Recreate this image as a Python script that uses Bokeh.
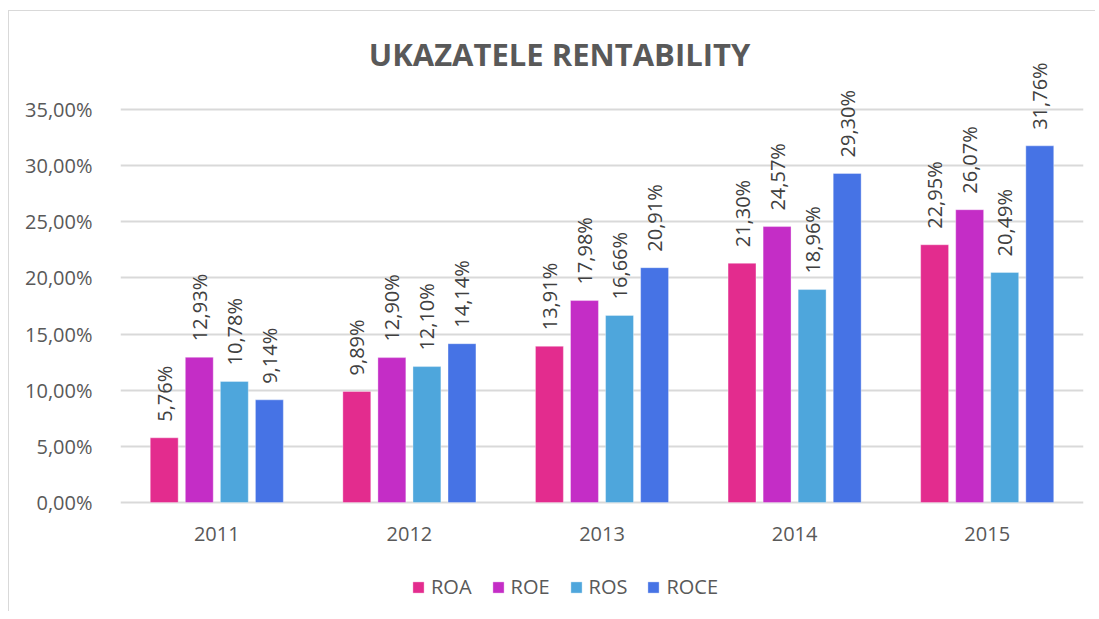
import math
from bokeh.plotting import figure
from bokeh.models import ColumnDataSource, FactorRange, Legend, LegendItem, Label, CustomJSTickFormatter
from bokeh.transform import dodge
from bokeh.core.properties import value
from bokeh.embed import file_html
from bokeh.resources import INLINE

years = ["2011", "2012", "2013", "2014", "2015"]
series = ["ROA", "ROE", "ROS", "ROCE"]
roa = [5.76, 9.89, 13.91, 21.30, 22.95]
roe = [12.93, 12.90, 17.98, 24.57, 26.07]
ros = [10.78, 12.10, 16.66, 18.96, 20.49]
roce = [9.14, 14.14, 20.91, 29.30, 31.76]
colors = ["#E32C8E", "#C42DC6", "#4EA6DC", "#4673E5"]
ticks = [0, 5, 10, 15, 20, 25, 30, 35]

data = {"years": years, "ROA": roa, "ROE": roe, "ROS": ros, "ROCE": roce}
for s in series:
    data[s + "_lbl"] = [("%.2f" % v).replace(".", ",") + "%" for v in data[s]]
src = ColumnDataSource(data)

FONT = "Open Sans"
GREY = "#595959"

p = figure(x_range=FactorRange(*years), y_range=(-8.995, 42.03), width=1095, height=611,
           output_backend="svg", toolbar_location=None,
           min_border_left=120, min_border_right=12, min_border_top=30, min_border_bottom=8)
p.outline_line_color = None
p.border_fill_color = None
p.background_fill_color = None
p.styles = {"background": "linear-gradient(#d9d9d9, #d9d9d9) 8px 10px / 1px 100% no-repeat, "
                          "linear-gradient(#d9d9d9, #d9d9d9) 8px 10px / 100% 1px no-repeat, white"}

offsets = [-0.273, -0.091, 0.091, 0.273]
items = []
for s, c, off in zip(series, colors, offsets):
    r = p.vbar(x=dodge("years", off, range=p.x_range), top=s, bottom=0, width=0.145, source=src,
               fill_color=c, line_color="white", line_alpha=0.35, line_width=1)
    p.text(x=dodge("years", off, range=p.x_range), y=s, text=s + "_lbl", source=src,
           angle=math.pi / 2, text_align="left", text_baseline="middle",
           y_offset=-16, text_font=value(FONT), text_font_size="20px", text_color="#404040")
    items.append(LegendItem(label=s, renderers=[r]))

p.yaxis.ticker = ticks
p.yaxis.formatter = CustomJSTickFormatter(code="return tick.toFixed(2).replace('.', ',') + '%';")
p.ygrid.grid_line_color = "#d9d9d9"
p.ygrid.grid_line_width = 2
p.xgrid.grid_line_color = None
for ax in (p.xaxis, p.yaxis):
    ax.axis_line_color = None
    ax.major_tick_line_color = None
    ax.minor_tick_line_color = None
    ax.major_label_text_font = FONT
    ax.major_label_text_font_size = "20px"
    ax.major_label_text_color = GREY
p.yaxis.major_label_standoff = 22
p.xaxis.fixed_location = -3.874
p.xaxis.major_label_standoff = -25
p.x_range.range_padding = 0
p.x_range.group_padding = 0

p.add_layout(Label(x=439, y=550, x_units="screen", y_units="screen", text="UKAZATELE RENTABILITY",
                   text_align="center", text_baseline="middle", text_font=FONT,
                   text_font_size="31px", text_font_style="bold", text_color=GREY))

legend = Legend(items=items, orientation="horizontal", location=(291, 3),
                label_text_font=FONT, label_text_font_size="20px", label_text_color=GREY,
                glyph_width=14, glyph_height=14, spacing=19, label_standoff=6,
                border_line_color=None, background_fill_alpha=0, margin=0, padding=0)
p.add_layout(legend)

open("out.html", "w").write(file_html(p, INLINE))
